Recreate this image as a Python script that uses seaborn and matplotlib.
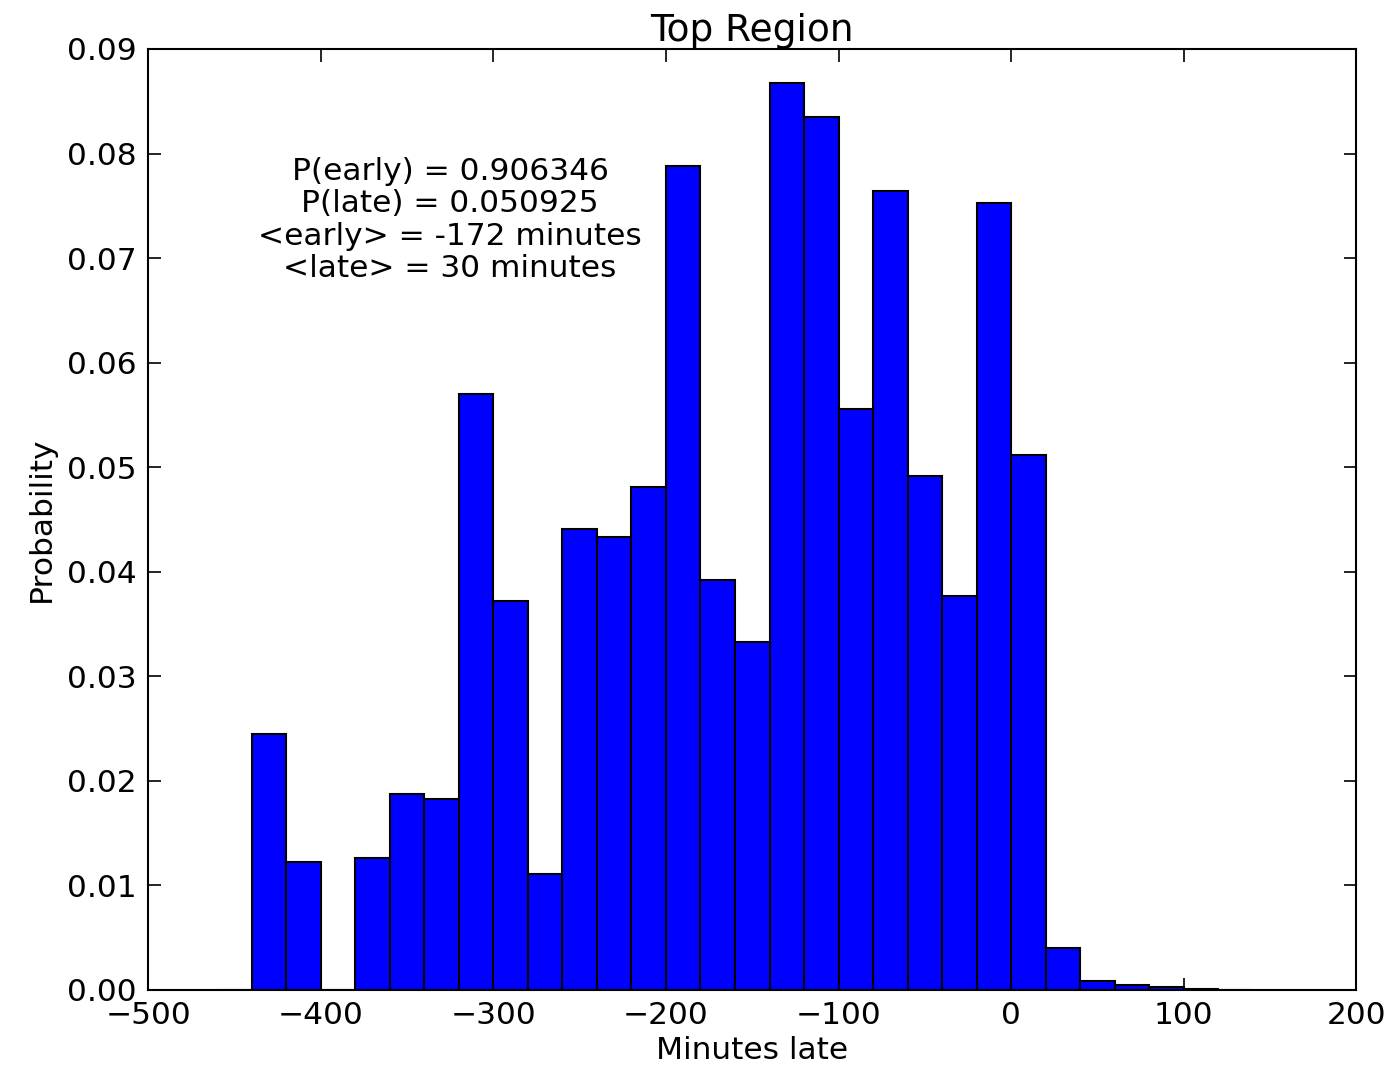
import numpy as np
import pandas as pd
import seaborn as sns
import matplotlib.pyplot as plt

# bin edges (width 20 minutes) and probability per bin
bin_edges = list(range(-460, 141, 20))
probs = [0.0, 0.0245, 0.0122, 0.0, 0.0126, 0.0187, 0.0183, 0.0570, 0.0372, 0.0111,
         0.0441, 0.0433, 0.0481, 0.0788, 0.0392, 0.0333, 0.0867, 0.0835, 0.0556,
         0.0764, 0.0492, 0.0377, 0.0753, 0.0512, 0.0040, 0.0009, 0.0005, 0.0003,
         0.0001, 0.0]

stats_text = "P(early) = 0.906346\nP(late) = 0.050925\n<early> = -172 minutes\n<late> = 30 minutes"

centers = [e + 10 for e in bin_edges[:-1]]
df = pd.DataFrame({'minutes': centers, 'prob': probs})

sns.set_style('ticks')
plt.rcParams['font.family'] = ['DejaVu Sans']
plt.rcParams['font.size'] = 22.5
plt.rcParams['text.color'] = 'black'
plt.rcParams['axes.labelcolor'] = 'black'
plt.rcParams['xtick.color'] = 'black'
plt.rcParams['ytick.color'] = 'black'

fig = plt.figure(figsize=(13.97, 10.81), dpi=100)
ax = fig.add_axes([0.106, 0.0842, 0.865, 0.8705])

sns.histplot(data=df, x='minutes', weights='prob', bins=bin_edges, stat='count',
             color='#0000ff', alpha=1, edgecolor='black', linewidth=1.5, ax=ax)

ax.set_xlim(-500, 200)
ax.set_ylim(0, 0.09)
ax.set_xticks(range(-500, 201, 100))
ax.set_xticklabels(['\u2212500', '\u2212400', '\u2212300', '\u2212200', '\u2212100', '0', '100', '200'])
ax.set_yticks(np.arange(0, 0.091, 0.01))
ax.set_yticklabels(['%.2f' % v for v in np.arange(0, 0.091, 0.01)])
ax.tick_params(direction='in', length=9, width=1.2, top=True, right=True, labelsize=22.5, pad=8)
for s in ax.spines.values():
    s.set_linewidth(1.5)
    s.set_color('black')

ax.set_title('Top Region', fontsize=27, pad=6)
ax.set_xlabel('Minutes late', fontsize=22.5, labelpad=4)
ax.set_ylabel('Probability', fontsize=22.5, labelpad=8)
ax.text(-325, 0.0797, stats_text, ha='center', va='top', fontsize=22.5, linespacing=1.15)

fig.savefig('out.png', dpi=100, facecolor='white')
